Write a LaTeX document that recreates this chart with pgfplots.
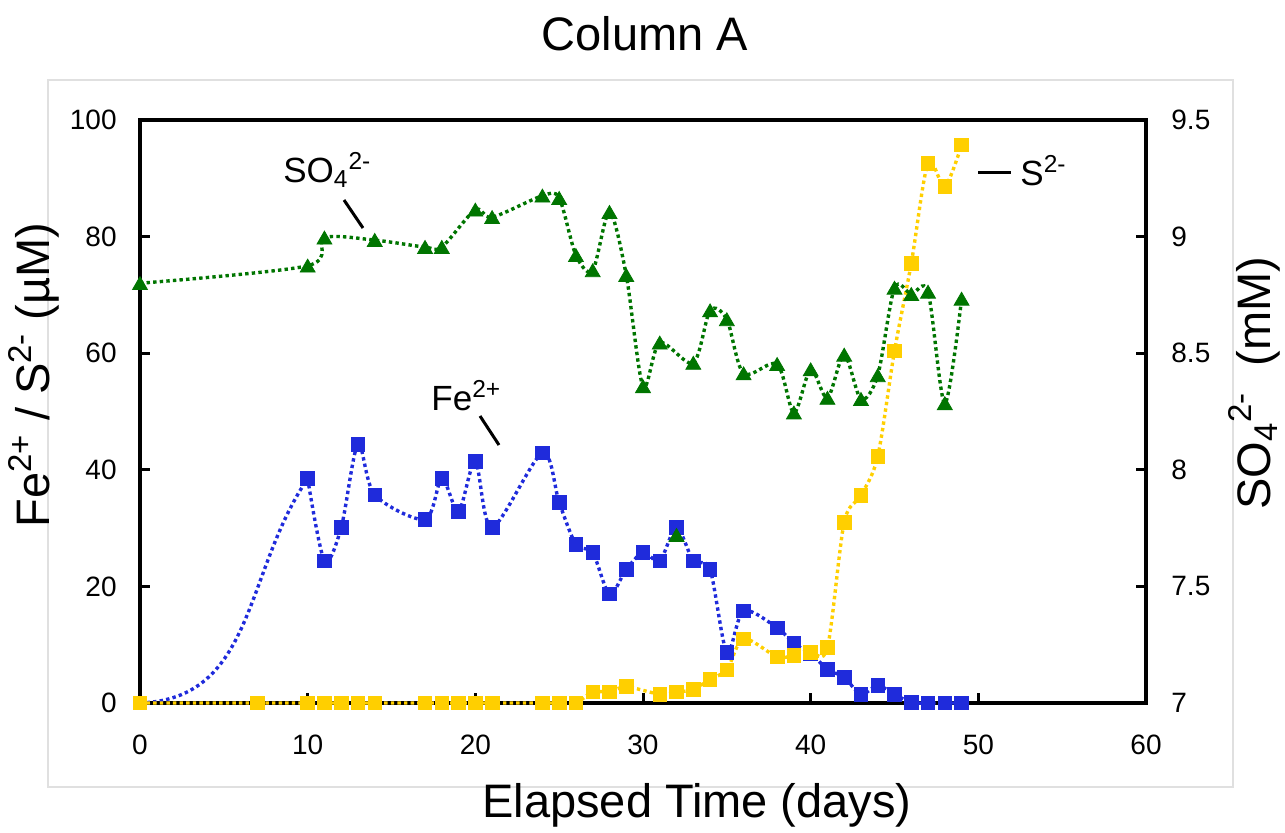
\documentclass[border=0pt]{standalone}
\usepackage{fontspec}
\setmainfont{Liberation Sans}
\usepackage{pgfplots}
\pgfplotsset{compat=1.18}
\definecolor{feblue}{RGB}{31,43,219}
\definecolor{syellow}{RGB}{255,207,0}
\definecolor{sogreen}{RGB}{0,117,0}
\tikzset{dotline/.style={line width=1.7pt, dash pattern=on 1.7pt off 1.6pt}}

% Fe2+ (uM); the day-0 point is joined to day 10 by a separate curve
\pgfplotstableread{
x y
0 0
10 38.5
11 24.4
12 30.1
13 44.4
14 35.7
17 31.5
18 38.5
19 32.9
20 41.4
21 30.1
24 42.9
25 34.4
26 27.2
27 25.8
28 18.7
29 22.9
30 25.8
31 24.4
32 30.1
33 24.4
34 22.9
35 8.7
36 15.8
38 12.9
39 10.2
40 8.5
41 5.8
42 4.4
43 1.5
44 3.0
45 1.5
46 0.1
47 0
48 0
49 0
}\fedata

\pgfplotstableread{
x y
0 0
7 0
10 0
11 0
12 0
13 0
14 0
17 0
18 0
19 0
20 0
21 0
24 0
25 0
26 0
27 1.9
28 1.9
29 2.8
31 1.5
32 1.9
33 2.3
34 4.1
35 5.7
36 11.0
38 7.9
39 8.2
40 8.7
41 9.5
42 31.0
43 35.6
44 42.3
45 60.4
46 75.4
47 92.6
48 88.6
49 95.7
}\sdata

\pgfplotstableread{
x y
0 8.800
10 8.875
11 8.995
14 8.985
17 8.955
18 8.955
20 9.115
21 9.083
24 9.175
25 9.165
26 8.920
27 8.855
28 9.105
29 8.835
30 8.358
31 8.545
33 8.458
34 8.683
35 8.645
36 8.413
38 8.453
39 8.245
40 8.430
41 8.308
42 8.493
43 8.303
44 8.405
45 8.780
46 8.753
47 8.763
48 8.285
49 8.733
}\sodata

\pgfplotstableread{
x y
32 7.72
}\sooutlier

\begin{document}
\begin{tikzpicture}
\useasboundingbox (-70pt,-64.5pt) rectangle (572.5pt,351.5pt);
\begin{scope}[shift={(-70pt,351.5pt)},x=0.5pt,y=-0.5pt]
\draw[black!12,line width=0.6pt] (48,80) rectangle (1233,787);
\end{scope}
\pgfplotsset{
  myaxis/.style={
    at={(0,0)}, anchor=south west,
    scale only axis, width=503pt, height=291.5pt,
    xmin=0, xmax=60,
    tick align=inside,
    major tick length=5pt,
    axis line style={line width=1.9pt},
    every tick/.style={black, line width=1.5pt},
    tick label style={font=\fontsize{14}{16}\selectfont},
    /pgf/number format/assume math mode=true,
    clip=false,
  },
}
\begin{axis}[myaxis,
  ymin=0, ymax=100,
  xtick={0,10,...,60}, ytick={0,20,...,100},
  xtick pos=bottom, ytick pos=left,
  yticklabel style={inner sep=0pt, anchor=east, xshift=-11.5pt},
  xticklabel style={inner sep=0pt, anchor=north, yshift=-16pt},
]
% smoothed first segment of the Fe2+ series (day 0 -> day 10)
\draw[feblue, dotline] (axis cs:0,0) to[out=2,in=236,looseness=1.05] (axis cs:10,38.5);
\addplot[feblue, dotline, smooth, mark=square*, mark size=3.4pt,
  mark options={solid, line width=0.4pt, fill=feblue, draw=feblue},
  restrict x to domain=5:60] table {\fedata};
\addplot[syellow, dotline, smooth, mark=square*, mark size=3.4pt,
  mark options={solid, line width=0.4pt, fill=syellow, draw=syellow}] table {\sdata};
\end{axis}
\begin{axis}[myaxis,
  ymin=7, ymax=9.5,
  axis x line=none, axis y line*=right,
  ytick={7,7.5,8,8.5,9,9.5},
  yticklabel style={inner sep=0pt, anchor=west, xshift=12.5pt},
]
\addplot[sogreen, dotline, smooth, mark=triangle*, mark size=4.3pt,
  mark options={solid, line width=0.4pt, fill=sogreen, draw=sogreen, yshift=-1pt}] table {\sodata};
\addplot[sogreen, only marks, mark=triangle*, mark size=4.3pt,
  mark options={solid, line width=0.4pt, fill=sogreen, draw=sogreen, yshift=-1pt}] table {\sooutlier};
\end{axis}
\begin{scope}[shift={(-70pt,351.5pt)},x=0.5pt,y=-0.5pt]
\node[anchor=base, inner sep=0pt, font=\fontsize{23.5}{28}\selectfont] at (645,50) {Column A};
\node[anchor=base, inner sep=0pt, font=\fontsize{23.5}{28}\selectfont] at (697,817) {Elapsed Time (days)};
\node[anchor=base, inner sep=0pt, rotate=90, font=\fontsize{23.5}{28}\selectfont] at (50,375) {Fe\textsuperscript{2+} / S\textsuperscript{2-} (µM)};
\node[anchor=base, inner sep=0pt, rotate=90, font=\fontsize{23.5}{28}\selectfont] at (1270,383) {SO\textsubscript{4}\textsuperscript{2-}\ \ (mM)};
\begin{scope}[every node/.style={inner sep=0pt, anchor=base west, font=\fontsize{17.5}{20}\selectfont}]
\node at (283,182) {SO\textsubscript{4}\textsuperscript{2-}};
\node at (431,410) {Fe\textsuperscript{2+}};
\node at (1020,185) {S\textsuperscript{2-}};
\end{scope}
\draw[line width=1.5pt] (344,200) -- (363,228);
\draw[line width=1.5pt] (480,416) -- (499,445);
\draw[line width=1.5pt] (978,172) -- (1011,172);
\end{scope}
\end{tikzpicture}
\end{document}
